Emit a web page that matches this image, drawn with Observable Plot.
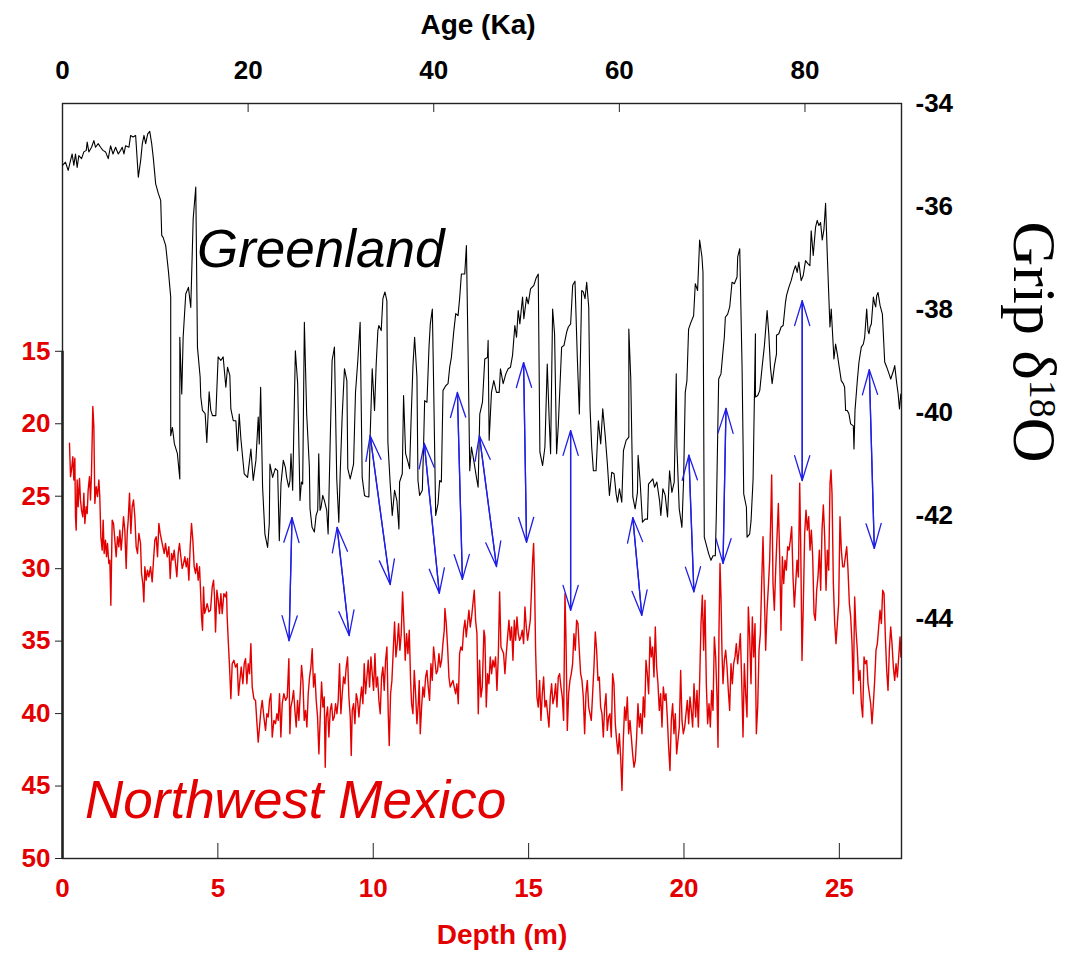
<!DOCTYPE html>
<html><head><meta charset="utf-8">
<script src="https://cdn.jsdelivr.net/npm/d3@7"></script>
<script src="https://cdn.jsdelivr.net/npm/@observablehq/plot@0.6"></script>
<style>
body{margin:0;background:#fff;}
#wrap{position:relative;width:1071px;height:954px;overflow:hidden;background:#fff;}
#wrap > svg{position:absolute;left:0;top:0;}
</style></head><body><div id="wrap"></div>
<script>
// ---- tick labels ----
const ageTicks = [0, 20, 40, 60, 80];
const depthTicks = [0, 5, 10, 15, 20, 25];
const leftTicks = [15, 20, 25, 30, 35, 40, 45, 50];
const rightTicks = [-34, -36, -38, -40, -42, -44];

// ---- Greenland (GRIP) series: age (Ka), d18O ----
const greenAge = [0,0.32,0.61,0.86,1.04,1.22,1.40,1.58,1.76,2.05,2.30,2.56,2.66,2.84,3.13,3.38,3.56,3.85,4.10,4.36,4.64,4.93,5.18,5.44,5.72,6.01,6.26,6.44,6.62,6.80,7.16,7.34,7.60,7.88,8.17,8.42,8.60,8.78,8.96,9.18,9.40,9.61,9.79,10.04,10.33,10.58,10.69,10.84,11.12,11.41,11.66,11.66,11.84,12.06,12.38,12.64,12.64,12.85,13.00,13.28,13.57,13.82,14.08,14.36,14.54,14.83,14.90,15.08,15.37,15.55,15.80,15.98,16.16,16.52,16.77,17.06,17.31,17.60,17.78,18.03,18.14,18.40,18.68,18.86,19.04,19.22,19.58,19.94,20.30,20.55,20.84,21.09,21.20,21.35,21.56,21.81,22.10,22.28,22.35,
22.64,22.93,23.18,23.36,23.54,23.79,24.01,24.15,24.37,24.51,24.62,24.80,25.09,25.34,25.59,25.74,25.88,26.06,26.31,26.60,26.67,26.89,27.14,27.32,27.50,27.61,27.75,27.86,28.04,28.22,28.47,28.62,28.83,29.05,29.30,29.55,29.77,29.92,30.13,30.38,30.64,30.74,31.00,31.36,31.57,31.82,32.07,32.29,32.54,32.72,33.01,33.15,33.37,33.62,33.80,33.98,34.09,34.34,34.52,34.74,34.95,35.06,35.31,35.53,35.78,36.03,36.25,36.32,36.61,36.75,36.97,37.22,37.40,37.58,37.76,37.94,38.19,38.30,38.48,38.77,38.91,39.02,39.27,39.49,39.63,39.85,39.99,40.21,40.46,40.64,40.82,41.00,41.29,41.54,41.72,41.90,42.15,42.37,42.62,42.80,42.98,43.34,43.52,43.74,43.88,44.06,44.31,
44.60,44.78,44.96,45.25,45.50,45.79,45.86,45.97,46.22,46.47,46.76,47.05,47.19,47.48,47.77,48.02,48.27,48.49,48.74,48.92,49.10,49.28,49.57,49.71,50.00,50.18,50.43,50.79,51.01,51.26,51.44,51.73,51.98,52.23,52.45,52.59,52.81,53.02,53.24,53.42,53.78,54.03,54.32,54.50,54.75,54.97,55.22,55.47,55.69,55.94,56.12,56.30,56.48,56.70,56.84,57.02,57.20,57.49,57.74,57.99,58.21,58.46,58.71,58.93,59.18,59.43,59.65,59.80,60.01,60.26,60.44,60.73,61.02,61.02,61.23,61.45,61.70,61.95,62.02,62.24,62.49,62.78,63.03,63.14,63.32,63.61,63.79,64.04,64.33,64.47,64.69,64.94,65.19,65.41,65.66,65.91,66.13,66.20,66.45,66.74,66.92,67.10,
67.28,67.46,67.71,68.00,68.18,68.43,68.65,68.90,69.01,69.15,69.44,69.62,69.87,70.09,70.34,70.45,70.70,70.95,71.17,71.31,71.42,71.67,71.89,72.14,72.39,72.68,72.75,72.97,73.22,73.40,73.69,73.76,74.04,74.19,74.41,74.66,74.66,74.91,75.13,75.38,75.63,75.92,76.10,76.28,76.46,76.71,76.93,76.93,77.18,77.43,77.65,77.90,78.01,78.26,78.51,78.80,78.98,79.16,79.34,79.59,79.81,80.06,80.31,80.53,80.67,80.89,81.14,81.32,81.50,81.68,81.86,82.04,82.22,82.40,82.69,82.83,83.12,83.30,83.48,83.69,83.91,84.13,84.27,84.38,84.56,84.74,84.92,85.21,85.28,85.39,85.64,85.82,86.07,86.29,86.43,86.65,86.79,86.90,87.01,87.15,87.37,87.51,87.62,87.73,87.87,88.09,88.34,88.59,88.81,89.06,89.24,89.53,89.67,89.89,90.04,90.18,90.33];
const greenD18O = [-35.20,-35.14,-35.30,-35.11,-34.98,-35.20,-34.98,-35.24,-35.01,-35.07,-34.94,-34.91,-34.75,-34.94,-34.85,-34.72,-34.85,-34.78,-34.85,-34.91,-34.94,-35.07,-34.82,-34.98,-34.85,-34.98,-34.91,-34.85,-34.98,-34.82,-34.85,-34.62,-34.65,-34.62,-35.43,-35.11,-34.78,-34.62,-34.78,-34.59,-34.54,-34.78,-35.07,-35.56,-35.75,-35.88,-36.56,-36.60,-36.76,-37.25,-37.76,-40.45,-40.29,-40.61,-40.80,-41.29,-38.54,-39.64,-38.54,-37.70,-37.57,-37.96,-36.24,-35.62,-38.73,-39.31,-39.70,-39.96,-40.02,-40.58,-39.60,-39.96,-40.06,-40.06,-38.92,-38.99,-38.92,-39.51,-39.12,-39.28,-39.93,-40.16,-40.16,-40.74,-40.03,-40.51,-41.19,-41.26,-40.71,-41.32,-40.93,-40.09,-40.61,-39.51,-41.45,-42.36,-42.62,-42.16,-41.00,
-41.26,-41.09,-41.13,-42.49,-41.39,-40.93,-41.06,-41.26,-41.45,-41.32,-40.80,-41.51,-38.80,-39.44,-41.71,-41.35,-41.39,-38.25,-40.03,-41.06,-41.87,-42.23,-42.32,-42.00,-41.90,-40.80,-41.90,-41.84,-41.61,-41.71,-41.90,-42.36,-40.67,-38.99,-38.73,-41.29,-42.13,-41.19,-40.09,-39.15,-39.38,-41.09,-41.29,-41.00,-39.61,-38.99,-38.25,-41.26,-41.61,-41.63,-41.64,-40.45,-39.15,-39.96,-39.06,-38.41,-38.31,-38.41,-37.79,-37.66,-37.83,-40.58,-41.39,-42.00,-41.51,-41.71,-42.26,-41.35,-41.19,-39.67,-40.80,-40.96,-41.09,-40.03,-39.09,-38.54,-39.31,-41.32,-41.61,-41.51,-40.61,-39.77,-39.80,-38.73,-38.28,-37.99,-39.48,-42.00,-41.77,-41.32,-41.35,-39.57,-39.48,-39.44,-39.12,-38.93,-38.44,-38.08,-38.12,-37.76,-37.31,-37.31,-36.76,-39.31,-41.13,-40.67,-40.93,
-41.26,-41.45,-40.03,-39.80,-38.96,-38.93,-38.60,-40.54,-39.61,-39.38,-39.61,-39.61,-39.15,-39.44,-39.25,-39.15,-39.12,-38.89,-38.31,-38.54,-38.02,-38.28,-37.76,-38.18,-37.76,-37.89,-37.60,-37.53,-37.40,-37.31,-40.77,-41.03,-40.67,-39.06,-40.19,-40.80,-37.99,-38.47,-40.80,-40.25,-38.73,-38.70,-38.44,-38.34,-38.28,-37.53,-37.45,-38.93,-40.03,-37.63,-37.66,-37.79,-37.47,-37.95,-39.90,-40.67,-41.13,-41.13,-40.16,-40.61,-39.93,-40.42,-41.00,-41.61,-41.16,-41.19,-41.58,-41.74,-41.48,-41.74,-40.74,-40.54,-40.48,-38.38,-39.34,-41.64,-41.87,-41.55,-40.83,-41.35,-42.13,-42.07,-42.07,-41.39,-41.35,-41.29,-41.45,-41.35,-41.71,-42.00,-41.48,-41.61,-42.03,-41.13,-41.55,-41.35,-39.25,-40.67,-41.87,-42.23,-41.32,-39.61,
-39.38,-38.38,-38.25,-38.12,-37.50,-37.63,-36.65,-36.98,-37.28,-42.42,-42.62,-42.74,-42.87,-42.78,-42.78,-41.97,-39.35,-39.25,-38.80,-38.54,-38.15,-38.09,-37.95,-37.47,-37.50,-37.37,-36.98,-36.82,-39.09,-41.58,-41.84,-42.42,-42.36,-42.10,-41.29,-38.47,-39.70,-39.67,-39.57,-39.12,-38.70,-38.02,-38.47,-39.12,-39.44,-39.09,-38.86,-38.50,-38.47,-38.34,-38.31,-37.86,-37.73,-37.57,-37.44,-37.24,-37.15,-37.28,-37.08,-37.44,-37.34,-37.05,-37.11,-37.15,-36.47,-36.95,-36.40,-36.27,-36.37,-36.31,-36.65,-36.45,-35.94,-36.92,-38.34,-37.99,-38.96,-38.67,-38.86,-39.12,-39.38,-39.44,-39.51,-39.96,-39.96,-40.03,-40.22,-40.26,-40.71,-39.96,-39.38,-39.02,-38.73,-38.67,-38.54,-37.99,-38.41,-38.47,-38.34,-38.28,-37.76,-37.89,-37.95,-37.73,-37.67,-37.92,-38.09,-39.02,-39.12,-39.25,-39.35,-39.19,-39.09,-39.44,-39.64,-39.93,-39.64];

// ---- Northwest Mexico series: depth (m), left-axis value ----
const mexDepth = [0.225,0.258,0.29,0.333,0.365,0.397,0.418,0.44,0.472,0.504,0.547,0.579,0.612,0.654,0.687,0.719,0.762,0.794,0.826,0.869,0.901,0.933,0.976,1.009,1.041,1.084,1.127,1.17,1.20,1.234,1.277,1.309,1.341,1.384,1.416,1.448,1.491,1.524,1.556,1.599,1.642,1.685,1.727,1.77,1.813,1.845,1.888,1.921,1.964,2.006,2.049,2.082,2.114,2.157,2.20,2.242,2.285,2.328,2.371,2.414,2.457,2.511,2.543,2.586,2.618,2.65,2.693,2.736,2.779,2.833,2.886,2.929,2.972,3.015,3.058,3.101,3.144,3.187,3.23,3.273,3.315,3.369,3.423,3.466,3.509,3.552,3.594,3.637,3.68,3.723,3.766,3.809,3.852,3.895,3.938,3.981,4.024,4.067,4.109,4.152,4.195,4.238,4.281,4.324,4.367,4.41,4.442,4.474,4.506,4.539,4.571,4.603,4.657,4.71,4.764,4.818,4.861,4.893,4.925,4.968,5.011,5.054,5.097,5.139,5.193,5.247,5.279,5.30,5.333,5.376,5.418,5.461,5.515,5.569,5.622,5.665,5.708,5.751,5.805,5.848,5.891,5.933,5.976,6.019,6.062,6.105,6.159,6.212,6.255,6.298,6.341,6.384,6.427,6.481,6.534,6.577,6.62,6.663,6.706,6.749,6.803,
6.856,6.899,6.942,6.985,7.028,7.071,7.124,7.178,7.232,7.285,7.318,7.35,7.393,7.436,7.479,7.521,7.564,7.607,7.65,7.693,7.736,7.779,7.822,7.865,7.908,7.951,7.994,8.036,8.079,8.122,8.165,8.208,8.251,8.294,8.337,8.38,8.423,8.455,8.487,8.53,8.573,8.616,8.659,8.702,8.745,8.788,8.831,8.873,8.916,8.959,9.002,9.045,9.088,9.131,9.174,9.217,9.26,9.292,9.324,9.367,9.41,9.453,9.496,9.539,9.582,9.624,9.667,9.71,9.753,9.796,9.839,9.882,9.925,9.968,10.011,10.054,10.097,10.139,10.182,10.225,10.268,10.311,10.354,10.397,10.44,10.483,10.515,10.558,10.601,10.644,10.687,10.73,10.773,10.815,10.858,10.901,10.944,10.987,11.03,11.073,11.116,11.159,11.202,11.234,11.277,11.32,11.363,11.406,11.449,11.481,11.513,11.556,11.599,11.642,11.685,11.727,11.77,11.813,11.856,11.899,11.942,11.985,12.028,12.071,12.114,12.157,12.2,12.242,12.285,12.307,12.35,12.393,12.436,12.479,12.521,12.564,12.607,12.65,12.693,12.736,12.779,12.822,12.865,12.908,12.951,12.994,13.036,13.079,13.122,13.165,13.208,13.251,13.294,13.337,13.38,13.423,13.466,13.509,13.562,13.594,
13.637,13.68,13.723,13.766,13.809,13.852,13.895,13.938,13.981,14.024,14.067,14.11,14.152,14.195,14.238,14.281,14.324,14.367,14.41,14.453,14.496,14.539,14.582,14.625,14.667,14.71,14.753,14.796,14.839,14.882,14.925,14.968,15.011,15.054,15.097,15.129,15.161,15.193,15.225,15.268,15.311,15.354,15.397,15.44,15.483,15.526,15.569,15.612,15.655,15.698,15.74,15.783,15.826,15.869,15.912,15.955,15.998,16.041,16.084,16.127,16.17,16.202,16.245,16.288,16.331,16.374,16.416,16.459,16.502,16.545,16.588,16.631,16.674,16.717,16.76,16.803,16.846,16.889,16.932,16.974,17.017,17.06,17.103,17.146,17.189,17.232,17.275,17.318,17.361,17.404,17.447,17.49,17.532,17.575,17.618,17.661,17.704,17.747,17.79,17.833,17.876,17.919,17.962,18.004,18.047,18.09,18.133,18.176,18.219,18.262,18.305,18.348,18.391,18.434,18.476,18.519,18.562,18.605,18.648,18.691,18.734,18.777,18.82,18.863,18.906,18.948,18.991,19.034,19.077,19.12,19.163,19.206,19.249,19.292,19.335,19.378,19.42,19.463,19.506,19.549,19.592,19.635,19.678,19.721,19.764,19.807,19.85,19.893,19.936,19.979,20.022,20.065,20.108,20.151,20.193,20.236,20.279,20.322,
20.376,20.419,20.462,20.505,20.548,20.591,20.633,20.676,20.719,20.762,20.805,20.848,20.891,20.934,20.977,21.02,21.063,21.095,21.127,21.159,21.191,21.224,21.256,21.299,21.342,21.385,21.427,21.47,21.513,21.556,21.599,21.642,21.685,21.728,21.771,21.814,21.857,21.9,21.942,21.985,22.028,22.071,22.114,22.157,22.2,22.243,22.286,22.329,22.372,22.415,22.458,22.5,22.543,22.586,22.629,22.672,22.715,22.758,22.801,22.822,22.865,22.908,22.951,22.994,23.037,23.08,23.123,23.166,23.209,23.252,23.294,23.337,23.38,23.423,23.466,23.509,23.552,23.595,23.638,23.681,23.724,23.756,23.798,23.841,23.884,23.927,23.97,24.013,24.056,24.099,24.142,24.185,24.227,24.27,24.313,24.356,24.399,24.442,24.485,24.528,24.571,24.614,24.657,24.7,24.732,24.764,24.807,24.85,24.893,24.935,24.978,25.021,25.064,25.107,25.15,25.193,25.236,25.279,25.322,25.365,25.408,25.45,25.493,25.536,25.579,25.622,25.665,25.708,25.751,25.794,25.837,25.88,25.923,25.966,26.009,26.051,26.094,26.137,26.18,26.223,26.266,26.309,26.352,26.395,26.438,26.481,26.524,26.566,26.609,26.652,26.695,26.738,26.781,26.824,26.867,26.91,26.953,26.98];
const mexValue = [21.35,23.65,23.19,22.27,23.88,22.38,26.42,27.34,23.88,25.73,23.77,25.26,25.96,26.42,24.80,26.88,25.73,26.19,24.57,23.65,25.26,23.42,18.81,20.20,25.50,24.34,25.03,23.88,25.03,27.80,28.72,26.65,28.95,28.03,29.18,28.26,29.64,29.41,32.52,26.65,26.88,28.03,29.18,27.80,28.49,27.34,28.72,27.80,26.42,27.34,29.99,27.57,26.65,24.80,27.57,25.73,25.26,26.42,28.49,28.95,27.57,28.26,30.33,31.03,32.29,29.87,30.80,30.10,30.56,29.87,30.91,29.41,28.03,27.80,29.18,26.88,27.57,28.03,28.49,28.95,28.26,29.18,28.49,30.68,28.95,29.41,28.72,29.64,30.56,28.95,28.26,29.18,29.99,29.64,29.18,29.87,29.30,30.80,28.49,26.88,28.03,29.87,30.33,29.64,30.80,29.87,31.49,33.33,34.25,31.26,33.10,32.87,32.41,32.98,32.87,31.26,30.80,31.95,34.37,31.49,32.18,33.10,31.72,33.10,31.72,31.95,31.60,33.33,34.94,36.79,38.97,36.56,36.32,36.79,36.56,38.74,37.71,36.79,37.94,36.56,36.21,37.94,36.56,37.25,35.17,38.17,38.97,39.09,40.59,41.97,40.93,39.78,39.09,40.24,41.16,40.01,40.24,39.09,38.63,41.62,40.47,
40.70,40.01,40.47,38.63,41.62,39.32,38.63,39.09,38.86,36.21,41.39,39.55,39.09,38.40,39.78,40.93,39.09,40.47,38.63,36.67,37.71,40.47,39.78,40.93,38.63,37.48,36.79,35.52,38.17,37.25,39.09,40.24,42.78,40.24,37.82,39.55,38.86,43.70,40.24,39.55,41.62,39.78,39.32,40.47,40.24,39.32,40.01,39.09,36.56,40.01,38.63,37.48,37.94,36.79,36.09,38.86,40.24,42.89,39.78,39.32,40.70,38.63,39.09,40.24,39.09,38.17,39.32,36.56,38.63,37.48,36.32,38.17,36.09,37.25,38.40,35.86,38.17,37.48,39.09,40.01,37.48,36.79,38.40,36.32,35.40,40.01,42.20,38.63,37.71,35.63,33.68,36.09,35.17,33.79,35.63,34.48,31.60,33.79,36.32,34.48,35.86,34.25,37.71,39.32,40.01,37.02,38.63,40.70,39.32,37.71,41.39,39.55,38.17,38.86,37.48,37.02,38.17,39.09,36.56,37.71,35.40,36.32,37.25,37.02,35.86,36.79,36.32,35.17,34.25,32.75,33.79,35.40,37.48,38.17,37.94,37.71,38.17,38.63,37.94,39.32,35.86,35.40,35.63,34.25,33.56,34.71,33.79,32.87,34.02,33.33,32.41,31.49,33.56,34.48,40.01,36.32,38.86,38.17,34.25,34.71,
39.55,37.25,37.94,36.09,37.25,36.32,36.79,36.09,38.40,36.09,31.60,35.40,35.63,35.86,37.25,35.86,34.71,33.56,34.94,34.02,36.32,33.56,34.94,33.33,34.48,34.94,34.71,34.25,35.17,32.64,34.02,34.94,34.25,33.56,31.26,29.41,28.26,31.03,35.63,38.86,39.55,37.71,40.47,38.63,37.48,39.55,39.09,40.01,40.93,38.86,37.94,39.32,38.86,37.94,39.55,37.48,37.25,38.17,38.86,40.47,31.72,34.71,41.16,38.63,37.71,37.25,36.55,34.48,35.63,33.56,33.79,35.63,37.25,37.71,38.86,41.39,38.63,37.71,39.55,40.01,40.47,38.63,36.79,34.37,35.63,37.71,37.48,39.55,40.01,41.62,39.55,38.63,41.16,40.24,40.01,41.62,37.25,37.94,40.70,41.85,42.78,41.39,43.01,45.31,41.85,39.55,40.47,38.86,41.39,40.47,41.62,42.78,43.70,43.24,41.62,39.32,40.93,40.01,41.39,38.86,40.24,36.32,37.25,38.63,34.71,36.09,35.40,37.48,34.02,36.79,37.94,39.78,38.63,40.93,38.17,39.09,38.63,40.24,42.31,43.93,40.47,39.32,41.39,40.01,42.78,41.85,40.93,37.02,40.47,41.39,40.93,40.01,39.09,40.70,38.86,39.78,40.93,37.94,
40.24,38.40,40.93,37.71,33.79,31.83,35.63,32.18,37.94,40.70,39.32,40.93,38.40,39.78,34.71,36.09,38.86,42.32,34.25,29.64,31.95,35.86,37.94,36.33,35.63,36.79,38.40,39.78,36.56,37.94,36.56,36.09,35.17,36.56,35.63,34.48,37.71,41.62,36.56,38.63,40.24,32.64,34.71,37.94,33.33,36.09,33.79,41.39,39.55,35.63,34.48,31.03,27.80,31.72,35.63,32.87,31.26,29.41,25.73,23.54,31.03,32.87,30.10,27.80,25.50,29.18,34.25,29.18,31.03,29.41,30.10,28.49,28.72,28.03,27.11,30.57,32.64,31.03,29.41,30.57,24.11,28.26,36.33,32.41,27.57,25.96,27.34,26.42,28.72,27.34,29.18,33.10,33.56,31.49,30.57,28.72,31.49,27.34,25.61,27.80,31.49,28.72,30.10,24.11,23.19,24.80,31.03,33.79,35.17,33.79,32.41,26.42,28.72,29.87,29.87,29.18,28.49,30.10,32.41,33.33,35.17,38.63,31.95,34.25,35.63,37.71,37.02,39.32,40.24,36.09,36.56,36.33,37.94,38.63,39.32,40.70,39.32,37.71,35.63,35.17,34.02,32.87,33.79,31.49,31.72,34.71,37.02,38.40,35.63,34.02,35.17,36.79,37.71,36.56,37.48,36.09,34.71,36.09];

// ---- correlation arrows (Greenland end -> Mexico end), in age / d18O units ----
const arrowAgeTop    = [24.73, 29.59, 33.15, 38.98, 42.55, 44.92, 49.68, 54.75, 61.45, 67.49, 71.49, 79.70, 86.93];
const arrowD18OTop   = [-42.04, -42.23, -40.45, -40.60, -39.61, -40.45, -39.03, -40.35, -42.04, -40.83, -39.92, -37.83, -39.17];
const arrowAgeBottom = [24.41, 30.89, 35.31, 40.60, 43.09, 46.76, 50.00, 54.75, 62.42, 68.03, 71.17, 79.70, 87.47];
const arrowD18OBottom= [-44.43, -44.33, -43.34, -43.51, -43.24, -42.99, -42.52, -43.84, -43.94, -43.48, -42.93, -41.32, -42.64];

const green = greenAge.map((a, i) => ({age: a, d18O: greenD18O[i]}));
const mexico = mexDepth.map((d, i) => ({depth: d, value: mexValue[i]}));
const arrows = arrowAgeTop.map((a, i) => ({a1: a, d1: arrowD18OTop[i], a2: arrowAgeBottom[i], d2: arrowD18OBottom[i]}));

const RED = "#e30000", BLUE = "#1f1fe6";
const common = {
  width: 1071, height: 954,
  marginTop: 103, marginRight: 170, marginBottom: 96, marginLeft: 62,
  style: {background: "transparent", fontFamily: "'Liberation Sans', Arial, sans-serif", fontSize: "26px", fontWeight: "bold", overflow: "visible"}
};

const plotMexico = Plot.plot({
  ...common,
  x: {domain: [0, 27]},
  y: {domain: [-2.1, 50], reverse: true},
  marks: [
    Plot.axisX(depthTicks, {anchor: "bottom", tickSize: -15, tickPadding: 35, stroke: "#222", fill: RED, label: null, tickFormat: d => String(d)}),
    Plot.axisY(leftTicks, {anchor: "left", tickSize: 7, tickPadding: 5, stroke: "#222", fill: RED, label: null, tickFormat: d => String(d)}),
    Plot.ruleX([0], {y1: 15, y2: 50, stroke: "#222", strokeWidth: 2.5}),
    Plot.line(mexico, {x: "depth", y: "value", stroke: RED, strokeWidth: 1.4})
  ]
});

const plotGreen = Plot.plot({
  ...common,
  x: {domain: [0, 90.4]},
  y: {domain: [-48.66, -34]},
  marks: [
    Plot.frame({stroke: "#222", strokeWidth: 1.4}),
    Plot.axisX(ageTicks, {anchor: "top", tickSize: -8, tickPadding: 33, stroke: "#222", fill: "#000", label: null, tickFormat: d => String(d)}),
    Plot.axisY(rightTicks, {anchor: "right", tickSize: 0, tickPadding: 14, fill: "#000", label: null, tickFormat: d => String(d)}),
    Plot.line(green, {x: "age", y: "d18O", stroke: "#000", strokeWidth: 1.1}),
    Plot.arrow(arrows, {x1: "a1", y1: "d1", x2: "a2", y2: "d2", stroke: BLUE, strokeWidth: 1.3, headLength: 30, headAngle: 34}),
    Plot.arrow(arrows, {x1: "a2", y1: "d2", x2: "a1", y2: "d1", stroke: BLUE, strokeWidth: 1.3, headLength: 30, headAngle: 34})
  ]
});

const wrap = document.getElementById("wrap");
wrap.appendChild(plotMexico);
wrap.appendChild(plotGreen);

// ---- text annotations overlay ----
const svg = d3.select(wrap).append("svg")
  .attr("width", 1071).attr("height", 954)
  .style("position", "absolute").style("left", "0").style("top", "0")
  .style("font-family", "'Liberation Sans', Arial, sans-serif");

svg.append("text").attr("x", 478).attr("y", 34).attr("text-anchor", "middle")
  .attr("font-size", 28).attr("font-weight", "bold").attr("fill", "#000").text("Age (Ka)");
svg.append("text").attr("x", 502).attr("y", 944).attr("text-anchor", "middle")
  .attr("font-size", 28).attr("font-weight", "bold").attr("fill", RED).text("Depth (m)");
svg.append("text").attr("x", 197).attr("y", 267)
  .attr("font-size", 53).attr("font-style", "italic").attr("fill", "#000").text("Greenland");
svg.append("text").attr("x", 85).attr("y", 818)
  .attr("font-size", 53).attr("font-style", "italic").attr("fill", RED).text("Northwest Mexico");
const grip = svg.append("text").attr("transform", "translate(1014,342) rotate(90)")
  .attr("text-anchor", "middle").attr("font-family", "'Liberation Serif', 'Times New Roman', serif")
  .attr("font-size", 62).attr("fill", "#000");
grip.append("tspan").text("Grip δ");
grip.append("tspan").attr("font-size", 38).attr("dy", -16).text("18");
grip.append("tspan").attr("dy", 16).text("O");
</script></body></html>
